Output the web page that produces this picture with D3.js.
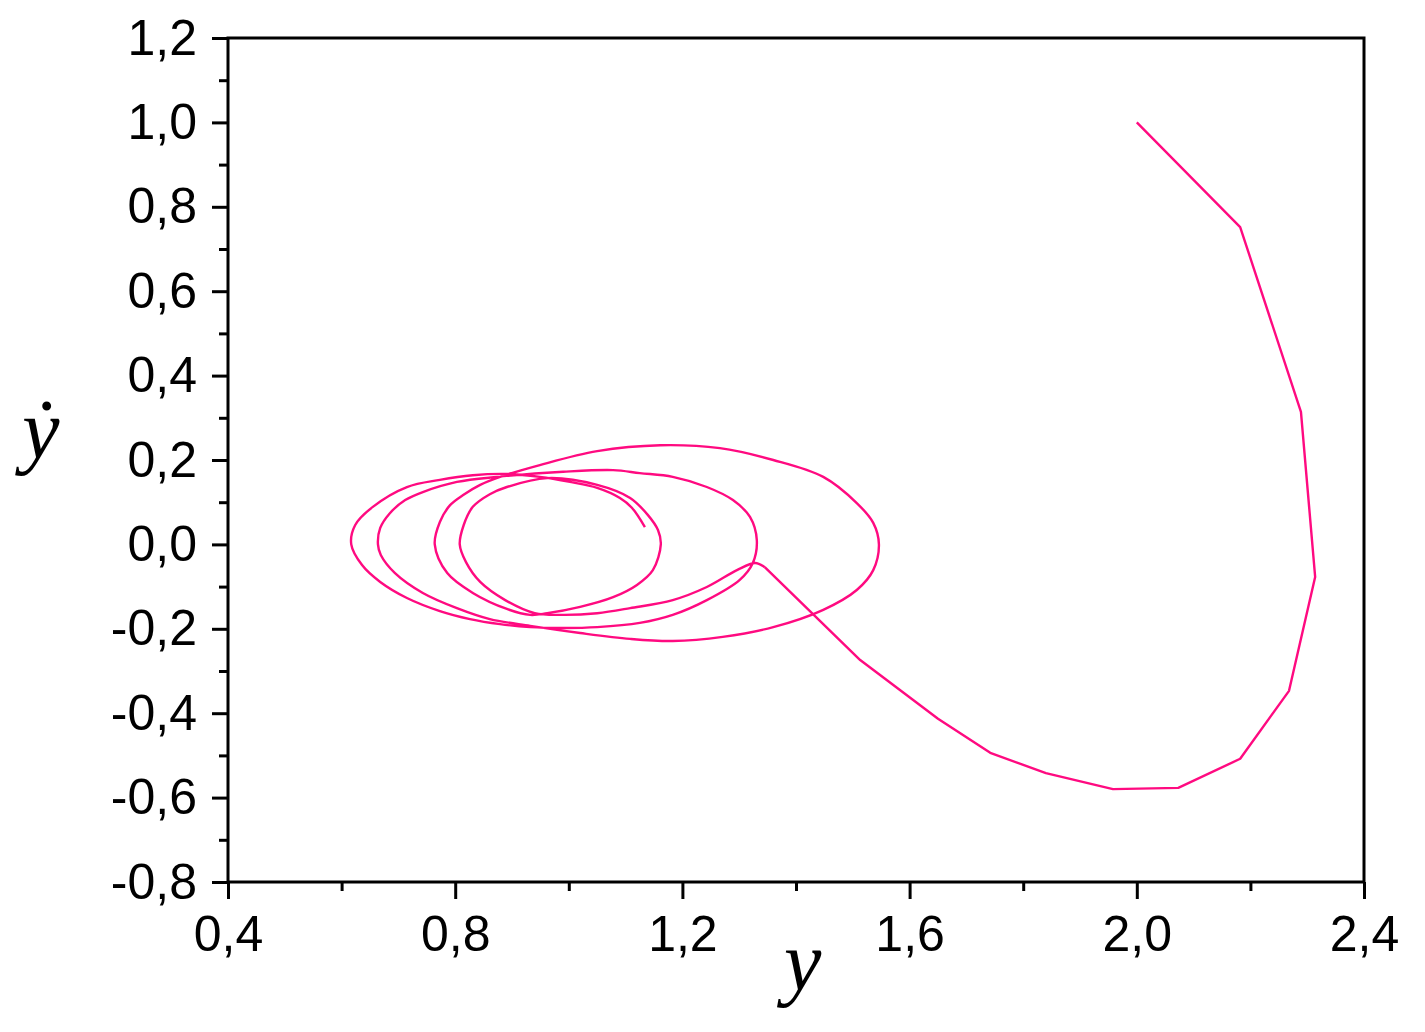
<!DOCTYPE html>
<html><head><meta charset="utf-8">
<script src="https://cdn.jsdelivr.net/npm/d3@7"></script>
<style>body{margin:0;background:#fff}svg{display:block}</style>
</head><body>
<svg id="chart" width="1425" height="1032"></svg>
<script>
// ---- data ----
const xTicks = [0.4, 0.8, 1.2, 1.6, 2.0, 2.4];
const xMinorTicks = [0.6, 1.0, 1.4, 1.8, 2.2];
const yTicks = [-0.8, -0.6, -0.4, -0.2, 0.0, 0.2, 0.4, 0.6, 0.8, 1.0, 1.2];
const yMinorTicks = [-0.7, -0.5, -0.3, -0.1, 0.1, 0.3, 0.5, 0.7, 0.9, 1.1];
const xLabel = "y";
const yLabel = "y\u0307";

// coarse first swing [y, ydot]
const approachPoints = [
  [2.000, 1.000], [2.182, 0.752], [2.289, 0.314], [2.314, -0.077], [2.268, -0.347],
  [2.182, -0.508], [2.073, -0.577], [1.958, -0.580], [1.840, -0.542], [1.742, -0.494],
  [1.650, -0.413], [1.513, -0.274], [1.345, -0.054]
];
// later smooth loops [y, ydot]
const spiralPoints = [
  [1.345, -0.054], [1.328, -0.044], [1.296, -0.061], [1.243, -0.101], [1.183, -0.132], [1.108, -0.151],
  [1.050, -0.163], [0.990, -0.167], [0.940, -0.163], [0.888, -0.132], [0.844, -0.089], [0.819, -0.042], [0.808, 0.000],
  [0.815, 0.046], [0.831, 0.089], [0.861, 0.119], [0.891, 0.136], [0.962, 0.157], [1.050, 0.141], [1.108, 0.110],
  [1.139, 0.070], [1.157, 0.034], [1.162, 0.000], [1.148, -0.061], [1.120, -0.096], [1.078, -0.125], [1.020, -0.148],
  [0.962, -0.163], [0.932, -0.167],
  [0.891, -0.153], [0.831, -0.115], [0.786, -0.068], [0.764, 0.000],
  [0.773, 0.053], [0.791, 0.093], [0.814, 0.117], [0.844, 0.141], [0.879, 0.160], [0.949, 0.188], [1.050, 0.221],
  [1.161, 0.235], [1.266, 0.228], [1.360, 0.200], [1.448, 0.160], [1.507, 0.098], [1.536, 0.051], [1.546, 0.000],
  [1.536, -0.061], [1.507, -0.108], [1.448, -0.155], [1.360, -0.196], [1.271, -0.219], [1.183, -0.229], [1.108, -0.224],
  [1.020, -0.210], [0.932, -0.193],
  [0.861, -0.177], [0.803, -0.151], [0.743, -0.115], [0.694, -0.068], [0.669, -0.025], [0.664, 0.000],
  [0.668, 0.039], [0.685, 0.074], [0.712, 0.105], [0.743, 0.124], [0.803, 0.148], [0.874, 0.160], [0.990, 0.172],
  [1.078, 0.176], [1.125, 0.169], [1.183, 0.160], [1.243, 0.136], [1.289, 0.105], [1.319, 0.065], [1.331, 0.010],
  [1.324, -0.044], [1.301, -0.084], [1.243, -0.132], [1.183, -0.167], [1.125, -0.186], [1.050, -0.196], [0.990, -0.198],
  [0.932, -0.196],
  [0.879, -0.189], [0.826, -0.177], [0.773, -0.158], [0.715, -0.127], [0.668, -0.089], [0.636, -0.049], [0.617, 0.000],
  [0.624, 0.046], [0.655, 0.089], [0.715, 0.136], [0.773, 0.153], [0.831, 0.164], [0.891, 0.167], [0.949, 0.160],
  [1.002, 0.148], [1.050, 0.134], [1.090, 0.110], [1.111, 0.087], [1.134, 0.041]
];

// ---- drawing ----
const m = {left: 228, right: 1364, top: 38, bottom: 882};
const svg = d3.select("#chart");
const x = d3.scaleLinear().domain([0.4, 2.4]).range([m.left, m.right]);
const y = d3.scaleLinear().domain([-0.8, 1.2]).range([m.bottom, m.top]);

const loc = d3.formatLocale({decimal: ",", thousands: ".", grouping: [3], currency: ["", ""], minus: "-"});
const fmt = loc.format(".1f");
const tickFont = "'Liberation Sans', Arial, sans-serif";
const lineColor = "#ff0a80";

// curve
svg.append("path").datum(approachPoints)
  .attr("d", d3.line().x(d => x(d[0])).y(d => y(d[1])).curve(d3.curveLinear))
  .attr("fill", "none").attr("stroke", lineColor).attr("stroke-width", 2.4).attr("stroke-linejoin", "round");
svg.append("path").datum(spiralPoints)
  .attr("d", d3.line().x(d => x(d[0])).y(d => y(d[1])).curve(d3.curveCatmullRom.alpha(0.5)))
  .attr("fill", "none").attr("stroke", lineColor).attr("stroke-width", 2.4).attr("stroke-linejoin", "round");

// frame
svg.append("rect").attr("x", m.left).attr("y", m.top)
  .attr("width", m.right - m.left).attr("height", m.bottom - m.top)
  .attr("fill", "none").attr("stroke", "#000").attr("stroke-width", 3);

// axes
function styleAxis(g) {
  g.select(".domain").remove();
  g.selectAll(".tick line").attr("stroke", "#000").attr("stroke-width", 3);
  g.selectAll(".tick text").attr("fill", "#000").style("font-family", tickFont).style("font-size", "50px");
}
svg.append("g").attr("transform", `translate(0,${m.bottom})`)
  .call(d3.axisBottom(x).tickValues(xMinorTicks).tickSize(9).tickFormat(""))
  .call(styleAxis);
svg.append("g").attr("transform", `translate(0,${m.bottom})`)
  .call(d3.axisBottom(x).tickValues(xTicks).tickSize(17).tickPadding(16).tickFormat(fmt))
  .call(styleAxis);
svg.append("g").attr("transform", `translate(${m.left},0)`)
  .call(d3.axisLeft(y).tickValues(yMinorTicks).tickSize(9).tickFormat(""))
  .call(styleAxis);
svg.append("g").attr("transform", `translate(${m.left},0)`)
  .call(d3.axisLeft(y).tickValues(yTicks).tickSize(16).tickPadding(15).tickFormat(fmt))
  .call(styleAxis);

// axis titles
const titleFont = "'Liberation Serif', 'Times New Roman', serif";
svg.append("text").attr("x", 784).attr("y", 990)
  .style("font-family", titleFont).style("font-style", "italic").style("font-size", "84px")
  .text(xLabel);
svg.append("text").attr("x", 22).attr("y", 458)
  .style("font-family", titleFont).style("font-style", "italic").style("font-size", "84px")
  .text(yLabel);
</script>
</body></html>
